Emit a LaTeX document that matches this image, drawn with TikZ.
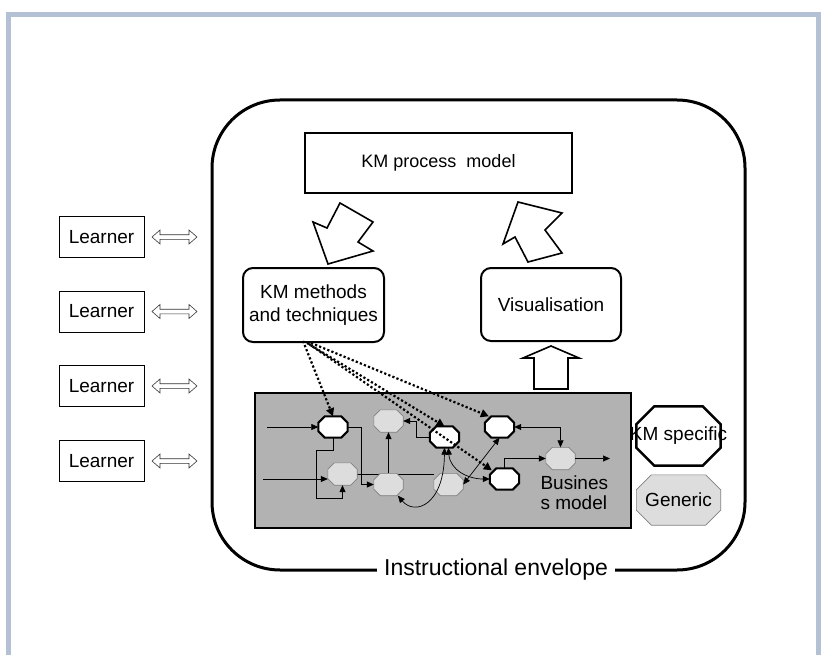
\documentclass[tikz,border=0pt]{standalone}
\usepackage{fontspec}
\setmainfont{Liberation Sans}
\usetikzlibrary{arrows.meta,calc}
\definecolor{framecol}{RGB}{180,192,212}
\definecolor{bmgray}{RGB}{178,178,178}
\definecolor{gengray}{RGB}{221,221,221}
\newcommand\drawoct[3]{% #1 style, #2 node, #3 chamfer
  \path[#1] ($(#2.north west)+(#3,0)$) -- ($(#2.north east)+(-#3,0)$) -- ($(#2.north east)+(0,#3)$) -- ($(#2.south east)+(0,-#3)$) -- ($(#2.south east)+(-#3,0)$) -- ($(#2.south west)+(#3,0)$) -- ($(#2.south west)+(0,-#3)$) -- ($(#2.north west)+(0,#3)$) -- cycle;}
\begin{document}
\begin{tikzpicture}[x=1pt,y=-1pt,
  txt/.style={font=\fontsize{19}{22}\selectfont},
  learnerbox/.style={draw, line width=0.8pt, minimum width=85pt, minimum height=41pt, inner sep=0pt, txt},
  roundbox/.style={draw, line width=2pt, rounded corners=10pt, inner sep=0pt, txt, align=center},
  kmbox/.style={minimum width=29pt, minimum height=21pt, inner sep=0pt},
  genbox/.style={minimum width=29pt, minimum height=22pt, inner sep=0pt},
  kmline/.style={draw, line width=2pt, fill=white, line join=miter},
  genline/.style={draw=gray, line width=0.6pt, fill=gengray},
  flow/.style={-{Triangle[length=7pt,width=6pt]}, line width=0.7pt},
  flowboth/.style={{Triangle[length=7pt,width=6pt]}-{Triangle[length=7pt,width=6pt]}, line width=0.7pt},
  dotarrow/.style={line width=2.2pt, dash pattern=on 2.2pt off 2.2pt, -{Triangle[length=8pt,width=8pt]}},
  blockarrow/.style={draw, line width=1.6pt, fill=white, line join=miter},
  dblarrow/.style={draw=black!80, line width=0.6pt, fill=white}
]
\useasboundingbox (0,0) rectangle (824,655);
% page frame
\draw[framecol, line width=5pt] (8,15) rectangle (818,690);

% envelope
\node[font=\fontsize{23}{27}\selectfont, inner sep=7pt] (envlabel) at (496,570) {Instructional envelope};
\draw[line width=3pt, rounded corners=68pt] (envlabel.west) -- (212,570) -- (212,100) -- (745,100) -- (745,570) -- (envlabel.east);

% top boxes
\node[draw, line width=2pt, minimum width=267pt, minimum height=60pt, inner sep=0pt, font=\fontsize{18}{20}\selectfont] (kmp) at (438.5,163) {KM process~ model};
\node[roundbox, minimum width=141pt, minimum height=74pt, font=\fontsize{19}{23}\selectfont] (kmm) at (313.5,305) {KM methods\\and techniques};
\node[roundbox, minimum width=140pt, minimum height=73pt] (vis) at (551,304.5) {Visualisation};

% block arrows
\draw[blockarrow] (340,203) -- (373,222) -- (358,242) -- (373,251) -- (328,264) -- (313,222) -- (327,228) -- cycle;
\draw[blockarrow] (528,262) -- (562,253) -- (545,230) -- (562,213) -- (518,202) -- (503,244) -- (515,237) -- cycle;
\draw[blockarrow] (534,389) -- (534,358) -- (523,358) -- (551,346) -- (579,358) -- (568,358) -- (568,389) -- cycle;

% learners
\foreach \i/\y in {1/237,2/311.5,3/386,4/461}{
  \node[learnerbox] (l\i) at (101.5,\y) {Learner};
  \draw[dblarrow] (152,\y) -- (160,\y-7) -- (160,\y-2.3) -- (189,\y-2.3) -- (189,\y-7) -- (197,\y) -- (189,\y+7) -- (189,\y+2.3) -- (160,\y+2.3) -- (160,\y+7) -- cycle;
}

% business model
\draw[line width=2pt, fill=bmgray] (255,393) rectangle (631,528);
\node[txt, align=left, anchor=west, font=\fontsize{19}{20}\selectfont] (bmlabel) at (537,493) {Busines\\s model};

\node[kmbox] (A) at (333,427) {};
\node[genbox] (B) at (388.5,421) {};
\node[kmbox] (C) at (444.5,437) {};
\node[genbox] (D) at (342.5,474) {};
\node[genbox] (E) at (388.5,484.5) {};
\node[genbox] (F) at (448.5,484.5) {};
\node[kmbox] (G) at (499.5,427) {};
\node[kmbox] (H) at (504.5,479) {};
\node[genbox] (I) at (560.5,458.5) {};

\coordinate (in1) at (267,427);
\coordinate (in2) at (263,479);
\coordinate (out1) at (610,458.5);

% line behind E
\draw[line width=0.7pt] (D.east) -- (D.east -| F.west);

\foreach \n in {A,C,G,H}{\drawoct{kmline}{\n}{6.5}}
\foreach \n in {B,D,E,F,I}{\drawoct{genline}{\n}{6.5}}

\draw[flow] (in1) -- (A.west);
\draw[flow] (in2) -- (in2 -| D.west);
\draw[flow] (A.south) -- ++(0,13) -- ++(-17,0) -- ++(0,48) -| (D.south);
\draw[flow] (A.east) -- ++(14,0) |- (E.west);
\draw[flow] (E.north) -- (B.south);
\draw[flow] (C.west) -- ++(-13,0) |- (B.east);
\draw[flowboth] (E.-50) .. controls (415,516) and (444,505) .. (C.south);
\draw[flowboth] (C.-70) .. controls (450,470) and (468,479) .. (H.west);
\draw[flowboth] (F.east) -- (G.south);
\draw[flowboth] (G.east) -| (I.north);
\draw[flow] (H.north) |- (I.west);
\draw[flow] (I.east) -- (out1);

% dotted arrows
\coordinate (o1) at (303,341);
\coordinate (o2) at (307,343);
\coordinate (o3) at (309,344);
\coordinate (o4) at (311,343);
\draw[dotarrow] (o1) -- (A.north);
\draw[dotarrow] (o2) -- (C.north);
\draw[dotarrow] (o3) -- ($(H.north west)+(2,2)$);
\draw[dotarrow] (o4) -- ($(G.north west)+(4,0)$);

% legend
\node[minimum width=84pt, minimum height=59pt, inner sep=0pt] (leg1) at (678.5,436) {};
\drawoct{draw, line width=2.5pt, fill=white, line join=miter}{leg1}{18}
\node[txt] (leg1t) at (leg1) {KM specific};
\node[minimum width=84pt, minimum height=50pt, inner sep=0pt] (leg2) at (678.5,500) {};
\drawoct{genline}{leg2}{15}
\node[txt] (leg2t) at (leg2) {Generic};
\end{tikzpicture}
\end{document}
